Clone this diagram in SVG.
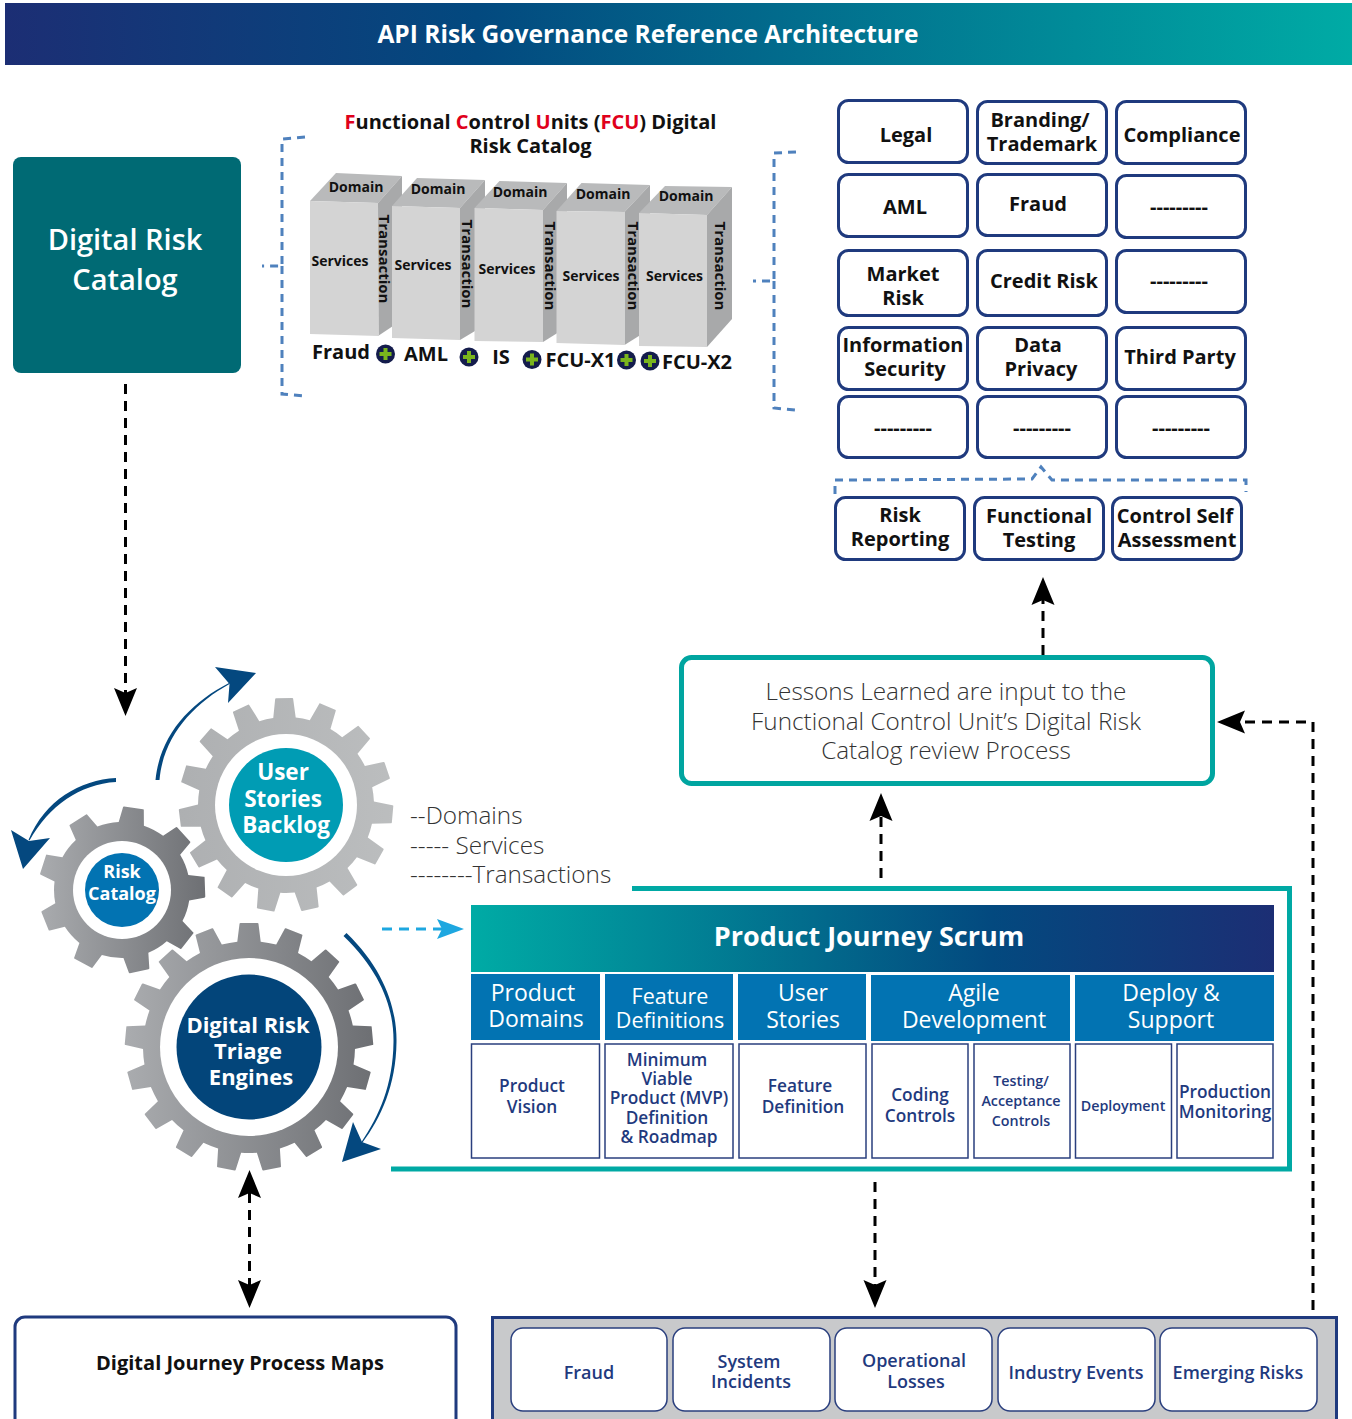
<svg xmlns="http://www.w3.org/2000/svg" width="1352" height="1419" viewBox="0 0 1352 1419">
<style>
text{font-family:"Open Sans","Noto Sans","Liberation Sans",sans-serif;text-anchor:middle}
.k{fill:#111;font-weight:700;font-size:20px}
.d{fill:#111;font-weight:700;font-size:14px}
.t{fill:#111;font-weight:700;font-size:15px}
.w{fill:#fff;font-weight:700}
.h{fill:#fff;font-weight:400;font-size:23px}
.hs{fill:#fff;font-weight:400;font-size:21.500px}
.c{fill:#1f3a7e;font-weight:600;font-size:17.300px}
.s{fill:#1f3a7e;font-weight:600;font-size:14.300px}
.b{fill:#1f3a7e;font-weight:600;font-size:18px}
.l{fill:#333;font-weight:300;font-size:24.300px}
.m{text-anchor:start}
.box{fill:#fff;stroke:#1f3a7e;stroke-width:3}
.cell{fill:#fff;stroke:#2a3f7e;stroke-width:1.5}
.hd{fill:#0273b2}
.front{fill:#d4d4d4}.top{fill:#b9babb}.side{fill:#a8a9aa}
.dash{fill:none;stroke:#4f81bd;stroke-width:3;stroke-dasharray:8 6}
.con{fill:none;stroke:#000;stroke-width:3;stroke-dasharray:10 7}
.turn{fill:#04487f}
</style>
<defs>
<linearGradient id="g1" x1="0" x2="1"><stop offset="0" stop-color="#1c2e74"/><stop offset=".35" stop-color="#03497f"/><stop offset="1" stop-color="#00aba5"/></linearGradient>
<linearGradient id="g2" x1="0" x2="1"><stop offset="0" stop-color="#00aba5"/><stop offset=".65" stop-color="#03497f"/><stop offset="1" stop-color="#1c2e74"/></linearGradient>
<linearGradient id="ga" x1="0" x2="1"><stop offset="0" stop-color="#adafb1"/><stop offset="1" stop-color="#bcbebf"/></linearGradient>
<linearGradient id="gb" x1="0" x2="1"><stop offset="0" stop-color="#abadb0"/><stop offset="1" stop-color="#6c6e72"/></linearGradient>
<marker id="ah" markerUnits="userSpaceOnUse" markerWidth="32" markerHeight="26" refX="5" refY="13" orient="auto-start-reverse"><path d="M0,1.500 L28,13 L0,24.500 L5,13 Z" fill="#000"/></marker>
<marker id="ab" markerUnits="userSpaceOnUse" markerWidth="32" markerHeight="26" refX="5" refY="13" orient="auto"><path d="M0,3 L27,13 L0,23 L5,13 Z" fill="#1ea7e0"/></marker>
<path id="t1" d="M-11.500,-85 L-9,-106 Q-9,-107 -8,-107 L8,-107 Q9,-107 9,-106 L11.500,-85 Z"/>
<path id="t2" d="M-13,-65 L-10.500,-82 Q-10.500,-83 -9.500,-83 L9.500,-83 Q10.500,-83 10.500,-82 L13,-65 Z"/>
<path id="t3" d="M-12,-103 L-9.500,-123 Q-9.500,-124 -8.500,-124 L8.500,-124 Q9.500,-124 9.500,-123 L12,-103 Z"/>
<clipPath id="c1"><circle cx="286" cy="805" r="88"/>
<use href="#t1" transform="translate(286 805) rotate(-1)"/><use href="#t1" transform="translate(286 805) rotate(23)"/><use href="#t1" transform="translate(286 805) rotate(47)"/><use href="#t1" transform="translate(286 805) rotate(71)"/><use href="#t1" transform="translate(286 805) rotate(95)"/><use href="#t1" transform="translate(286 805) rotate(119)"/><use href="#t1" transform="translate(286 805) rotate(143)"/><use href="#t1" transform="translate(286 805) rotate(167)"/><use href="#t1" transform="translate(286 805) rotate(191)"/><use href="#t1" transform="translate(286 805) rotate(215)"/><use href="#t1" transform="translate(286 805) rotate(239)"/><use href="#t1" transform="translate(286 805) rotate(263)"/><use href="#t1" transform="translate(286 805) rotate(287)"/><use href="#t1" transform="translate(286 805) rotate(311)"/><use href="#t1" transform="translate(286 805) rotate(335)"/>
</clipPath>
<clipPath id="c2"><circle cx="122" cy="890" r="68"/>
<use href="#t2" transform="translate(122 890) rotate(8)"/><use href="#t2" transform="translate(122 890) rotate(48)"/><use href="#t2" transform="translate(122 890) rotate(88)"/><use href="#t2" transform="translate(122 890) rotate(128)"/><use href="#t2" transform="translate(122 890) rotate(168)"/><use href="#t2" transform="translate(122 890) rotate(208)"/><use href="#t2" transform="translate(122 890) rotate(248)"/><use href="#t2" transform="translate(122 890) rotate(288)"/><use href="#t2" transform="translate(122 890) rotate(328)"/>
</clipPath>
<clipPath id="c3"><circle cx="249" cy="1047" r="106"/>
<use href="#t3" transform="translate(249 1047) rotate(0)"/><use href="#t3" transform="translate(249 1047) rotate(21.2)"/><use href="#t3" transform="translate(249 1047) rotate(42.4)"/><use href="#t3" transform="translate(249 1047) rotate(63.5)"/><use href="#t3" transform="translate(249 1047) rotate(84.7)"/><use href="#t3" transform="translate(249 1047) rotate(105.9)"/><use href="#t3" transform="translate(249 1047) rotate(127.1)"/><use href="#t3" transform="translate(249 1047) rotate(148.2)"/><use href="#t3" transform="translate(249 1047) rotate(169.4)"/><use href="#t3" transform="translate(249 1047) rotate(190.6)"/><use href="#t3" transform="translate(249 1047) rotate(211.8)"/><use href="#t3" transform="translate(249 1047) rotate(232.9)"/><use href="#t3" transform="translate(249 1047) rotate(254.1)"/><use href="#t3" transform="translate(249 1047) rotate(275.3)"/><use href="#t3" transform="translate(249 1047) rotate(296.5)"/><use href="#t3" transform="translate(249 1047) rotate(317.6)"/><use href="#t3" transform="translate(249 1047) rotate(338.8)"/>
</clipPath>
<g id="plus"><circle r="9.500" fill="#141c4c"/><path d="M-6,0H6M0,-6V6" stroke="#7ab51d" stroke-width="4" fill="none"/></g>
</defs>

<g id="header"><rect x="5" y="3" width="1347" height="62" fill="url(#g1)"/><text class="w" x="648" y="43" font-size="24.5">API Risk Governance Reference Architecture</text></g>

<g id="digital-risk-catalog"><rect x="13" y="157" width="228" height="216" rx="8" fill="#006a74"/><text x="125" y="250" font-size="29" font-weight="600" fill="#fff">Digital Risk</text><text x="125" y="290" font-size="29" font-weight="600" fill="#fff">Catalog</text></g>

<g id="fcu-catalog">
<text class="k" x="530.500" y="129"><tspan fill="#e0001b">F</tspan>unctional <tspan fill="#e0001b">C</tspan>ontrol <tspan fill="#e0001b">U</tspan>nits (<tspan fill="#e0001b">FCU</tspan>) Digital</text>
<text class="k" x="530.500" y="153">Risk Catalog</text>
<g id="col1"><polygon class="top" points="310,201 336,173 402,176 378,203"/><polygon class="side" points="378,203 402,176 402,320 378,336"/><polygon class="front" points="310,201 378,203 379,336 310,334"/><text class="d" x="356" y="192">Domain</text><text class="d" x="340" y="266">Services</text><text class="t" transform="translate(379 259) rotate(90)">Transaction</text></g>
<g id="col2"><polygon class="top" points="392,206 417,178 485,180 460,208"/><polygon class="side" points="460,208 485,180 485,325 460,340"/><polygon class="front" points="392,206 460,208 460,340 392,338"/><text class="d" x="438" y="194">Domain</text><text class="d" x="423" y="270">Services</text><text class="t" transform="translate(462 264) rotate(90)">Transaction</text></g>
<g id="col3"><polygon class="top" points="474.500,208 499.500,181 567,183 543,210"/><polygon class="side" points="543,210 567,183 567,327 543,342"/><polygon class="front" points="474.500,208 543,210 543,342 474.500,341"/><text class="d" x="520" y="197">Domain</text><text class="d" x="507" y="274">Services</text><text class="t" transform="translate(545 266) rotate(90)">Transaction</text></g>
<g id="col4"><polygon class="top" points="556.500,211 581.500,183 650,185 624.500,212"/><polygon class="side" points="624.500,212 650,185 650,329 624.500,345"/><polygon class="front" points="556.500,211 624.500,212 624.500,345 556.500,343"/><text class="d" x="603" y="199">Domain</text><text class="d" x="591" y="281">Services</text><text class="t" transform="translate(628 266) rotate(90)">Transaction</text></g>
<g id="col5"><polygon class="top" points="639,213 665,186 732,187 707,215"/><polygon class="side" points="707,215 732,187 732,319 707,347"/><polygon class="front" points="639,213 707,215 707,347 639,346"/><text class="d" x="686" y="201">Domain</text><text class="d" x="674.500" y="281">Services</text><text class="t" transform="translate(715 266) rotate(90)">Transaction</text></g>
<text class="k" x="341" y="359">Fraud</text><text class="k" x="426" y="361">AML</text><text class="k" x="501" y="364">IS</text><text class="k" x="580.500" y="367">FCU-X1</text><text class="k" x="697" y="369">FCU-X2</text>
<use href="#plus" x="385.500" y="354"/><use href="#plus" x="469" y="357"/><use href="#plus" x="532" y="359.500"/><use href="#plus" x="626.500" y="360"/><use href="#plus" x="650" y="361"/>
</g>

<g id="brackets">
<path class="dash" d="M305,137 L282,139 V266 L262,266 M282,266 V394 L305,396"/>
<path class="dash" d="M796,152 L774,153 V281 L753,281 M774,281 V408 L796,410"/>
<path class="dash" d="M835,494 V480 L1032,479 L1041,467 L1052,480 L1246,480 V492"/>
</g>

<g id="n-legal"><rect class="box" x="838.500" y="100.500" width="129" height="62" rx="10"/><text class="k" x="906" y="142">Legal</text></g>
<g id="n-branding"><rect class="box" x="977.500" y="101.500" width="129" height="62" rx="10"/><text class="k" x="1040" y="127">Branding/</text><text class="k" x="1042" y="151">Trademark</text></g>
<g id="n-compliance"><rect class="box" x="1116.500" y="101.500" width="129" height="62" rx="10"/><text class="k" x="1182" y="142">Compliance</text></g>
<g id="n-aml"><rect class="box" x="838.500" y="174.500" width="129" height="62" rx="10"/><text class="k" x="905" y="214">AML</text></g>
<g id="n-fraud"><rect class="box" x="977.500" y="174.500" width="129" height="61" rx="10"/><text class="k" x="1038" y="211">Fraud</text></g>
<g id="n-blank1"><rect class="box" x="1116.500" y="175.500" width="129" height="62" rx="10"/><text class="k" x="1179" y="214">---------</text></g>
<g id="n-market"><rect class="box" x="838.500" y="250.500" width="129" height="65" rx="10"/><text class="k" x="903" y="281">Market</text><text class="k" x="903" y="305">Risk</text></g>
<g id="n-credit"><rect class="box" x="977.500" y="250.500" width="129" height="65" rx="10"/><text class="k" x="1044" y="288">Credit Risk</text></g>
<g id="n-blank2"><rect class="box" x="1116.500" y="250.500" width="129" height="62" rx="10"/><text class="k" x="1179" y="288">---------</text></g>
<g id="n-infosec"><rect class="box" x="838.500" y="327.500" width="129" height="62" rx="10"/><text class="k" x="903" y="352">Information</text><text class="k" x="905" y="376">Security</text></g>
<g id="n-privacy"><rect class="box" x="977.500" y="327.500" width="129" height="62" rx="10"/><text class="k" x="1038" y="352">Data</text><text class="k" x="1041" y="376">Privacy</text></g>
<g id="n-third"><rect class="box" x="1116.500" y="327.500" width="129" height="62" rx="10"/><text class="k" x="1180" y="364">Third Party</text></g>
<g id="n-blank3"><rect class="box" x="838.500" y="396.500" width="129" height="61" rx="10"/><text class="k" x="903" y="435">---------</text></g>
<g id="n-blank4"><rect class="box" x="977.500" y="396.500" width="129" height="61" rx="10"/><text class="k" x="1042" y="435">---------</text></g>
<g id="n-blank5"><rect class="box" x="1116.500" y="396.500" width="129" height="61" rx="10"/><text class="k" x="1181" y="435">---------</text></g>
<g id="n-reporting"><rect class="box" x="835.500" y="497.500" width="129" height="62" rx="10"/><text class="k" x="900" y="522">Risk</text><text class="k" x="900" y="546">Reporting</text></g>
<g id="n-testing"><rect class="box" x="974.500" y="497.500" width="129" height="62" rx="10"/><text class="k" x="1039" y="523">Functional</text><text class="k" x="1039" y="547">Testing</text></g>
<g id="n-csa"><rect class="box" x="1112.500" y="497.500" width="129" height="62" rx="10"/><text class="k" x="1175" y="523">Control Self</text><text class="k" x="1177" y="547">Assessment</text></g>

<g id="lessons"><rect x="681.500" y="657.500" width="531" height="126" rx="10" fill="#fff" stroke="#00a5a0" stroke-width="5"/><text class="l" x="946" y="700">Lessons Learned are input to the</text><text class="l" x="946" y="730">Functional Control Unit’s Digital Risk</text><text class="l" x="946" y="759">Catalog review Process</text></g>

<g id="gear-user"><rect x="170" y="690" width="232" height="230" fill="url(#ga)" clip-path="url(#c1)"/><circle cx="286" cy="805" r="71" fill="#fff"/><circle cx="286" cy="805" r="57" fill="#009cb4"/><text class="w" x="283" y="780" font-size="22.5">User</text><text class="w" x="283" y="807" font-size="22.5">Stories</text><text class="w" x="286" y="833" font-size="22.5">Backlog</text></g>
<g id="gear-risk"><rect x="35" y="800" width="175" height="180" fill="url(#gb)" clip-path="url(#c2)"/><circle cx="122" cy="890" r="49" fill="#fff"/><circle cx="122" cy="890" r="37" fill="#0273b2"/><text class="w" x="122" y="878" font-size="18">Risk</text><text class="w" x="122" y="900" font-size="18">Catalog</text></g>
<g id="gear-triage"><rect x="120" y="915" width="258" height="260" fill="url(#gb)" clip-path="url(#c3)"/><circle cx="249" cy="1047" r="89" fill="#fff"/><circle cx="249" cy="1047" r="72.500" fill="#03457a"/><text class="w" x="248" y="1033" font-size="22">Digital Risk</text><text class="w" x="248" y="1059" font-size="22">Triage</text><text class="w" x="251" y="1085" font-size="22">Engines</text></g>
<g id="turn-arrows">
<path class="turn" d="M155.500,780 C160,735 190,703 229,683 L229.500,684 C193,704 163,737 159.500,780 Z"/><polygon class="turn" points="215,667 256,673 228,703 229.500,684"/>
<path class="turn" d="M116,778 C80,780 45,800 28.500,840 L29.500,840.500 C49,806 80,784 116,782 Z"/><polygon class="turn" points="11,830 29,841 50,838 23,869"/>
<path class="turn" d="M346.500,933 C385,970 397,1010 396.500,1042 C396,1085 381,1118 362.500,1142.500 L361.500,1142 C379,1116 393,1085 393.500,1042 C394,1010 382,973 343.500,936 Z"/><polygon class="turn" points="353,1122 362,1142 381,1149 342,1162"/>
</g>

<g id="dimension-notes"><text class="l m" x="410" y="824">--Domains</text><text class="l m" x="410" y="854">----- Services</text><text class="l m" x="410" y="883">--------Transactions</text></g>

<g id="scrum">
<path d="M632,888.500 H1289.500 V1169 H391" fill="none" stroke="#00a9a4" stroke-width="5"/>
<g id="scrum-title"><rect x="471" y="905" width="803" height="67" fill="url(#g2)"/><text class="w" x="869" y="946" font-size="27">Product Journey Scrum</text></g>
<g id="h1"><rect class="hd" x="471" y="974" width="129" height="66"/><text class="h" x="533" y="1001">Product</text><text class="h" x="536" y="1027">Domains</text></g>
<g id="h2"><rect class="hd" x="605" y="974" width="128" height="66"/><text class="hs" x="670" y="1004">Feature</text><text class="hs" x="670" y="1028">Definitions</text></g>
<g id="h3"><rect class="hd" x="738" y="974" width="128" height="66"/><text class="h" x="803" y="1001">User</text><text class="h" x="803" y="1028">Stories</text></g>
<g id="h4"><rect class="hd" x="871" y="975" width="199" height="66"/><text class="h" x="974" y="1001">Agile</text><text class="h" x="974" y="1028">Development</text></g>
<g id="h5"><rect class="hd" x="1075" y="975" width="199" height="66"/><text class="h" x="1171" y="1001">Deploy &amp;</text><text class="h" x="1171" y="1028">Support</text></g>
<g id="c-vision"><rect class="cell" x="471.500" y="1044" width="128" height="114"/><text class="c" x="532" y="1092">Product</text><text class="c" x="532" y="1113">Vision</text></g>
<g id="c-mvp"><rect class="cell" x="605" y="1044" width="128" height="114"/><text class="c" x="667" y="1066">Minimum</text><text class="c" x="667" y="1085">Viable</text><text class="c" x="669" y="1104">Product (MVP)</text><text class="c" x="667" y="1124">Definition</text><text class="c" x="669" y="1143">&amp; Roadmap</text></g>
<g id="c-feature"><rect class="cell" x="739" y="1044" width="127" height="114"/><text class="c" x="800" y="1092">Feature</text><text class="c" x="803" y="1113">Definition</text></g>
<g id="c-coding"><rect class="cell" x="872" y="1044" width="96" height="114"/><text class="c" x="920" y="1101">Coding</text><text class="c" x="920" y="1122">Controls</text></g>
<g id="c-testing"><rect class="cell" x="974" y="1044" width="96" height="114"/><text class="s" x="1021" y="1086">Testing/</text><text class="s" x="1021" y="1106">Acceptance</text><text class="s" x="1021" y="1126">Controls</text></g>
<g id="c-deploy"><rect class="cell" x="1075.500" y="1044" width="96" height="114"/><text class="s" x="1123" y="1111">Deployment</text></g>
<g id="c-prod"><rect class="cell" x="1177" y="1044" width="96" height="114"/><text class="c" x="1225" y="1098">Production</text><text class="c" x="1225" y="1118">Monitoring</text></g>
</g>

<g id="journey-maps"><rect class="box" x="15" y="1317" width="441" height="115" rx="10"/><text x="240" y="1370" fill="#111" font-weight="700" font-size="20">Digital Journey Process Maps</text></g>
<g id="loss-events"><rect x="492.500" y="1317.500" width="844" height="115" fill="#c8c9cb" stroke="#1f3a7e" stroke-width="3"/>
<g id="e-fraud"><rect class="cell" x="511" y="1328" width="156" height="83" rx="12"/><text class="b" x="589" y="1379">Fraud</text></g>
<g id="e-system"><rect class="cell" x="673" y="1328" width="157" height="83" rx="12"/><text class="b" x="749" y="1368">System</text><text class="b" x="751" y="1388">Incidents</text></g>
<g id="e-ops"><rect class="cell" x="835" y="1328" width="157" height="83" rx="12"/><text class="b" x="914" y="1367">Operational</text><text class="b" x="916" y="1388">Losses</text></g>
<g id="e-industry"><rect class="cell" x="998" y="1328" width="157" height="83" rx="12"/><text class="b" x="1076" y="1379">Industry Events</text></g>
<g id="e-emerging"><rect class="cell" x="1160" y="1328" width="157" height="83" rx="12"/><text class="b" x="1238" y="1379">Emerging Risks</text></g>
</g>

<g id="connectors">
<path class="con" d="M125.500,384 V693" marker-end="url(#ah)"/>
<path class="con" d="M1043,655 V600" marker-end="url(#ah)"/>
<path class="con" d="M881,878 V816" marker-end="url(#ah)"/>
<path d="M382,929 H442" fill="none" stroke="#1ea7e0" stroke-width="3" stroke-dasharray="10 7" marker-end="url(#ab)"/>
<path class="con" d="M1313,1310 V722 H1240" marker-end="url(#ah)"/>
<path class="con" d="M875,1182 V1285" marker-end="url(#ah)"/>
<path class="con" d="M249.500,1193 V1285" marker-start="url(#ah)" marker-end="url(#ah)"/>
</g>
</svg>
